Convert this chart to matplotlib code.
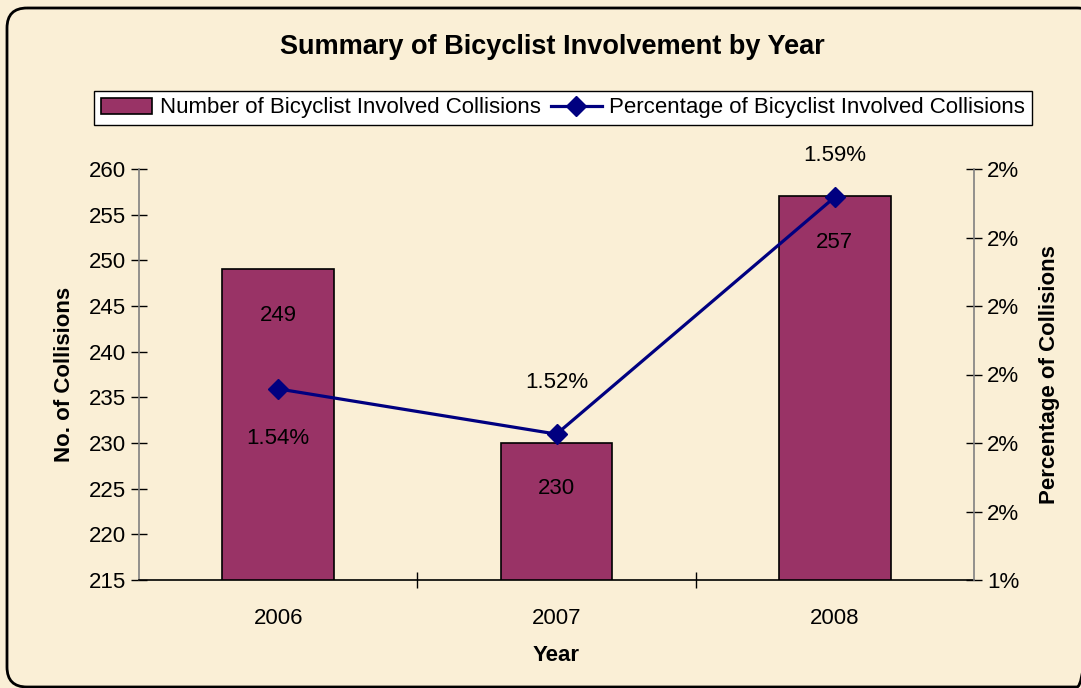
import matplotlib.pyplot as plt
from matplotlib.patches import FancyBboxPatch
from matplotlib.ticker import FuncFormatter, FixedLocator

plt.rcParams['font.family'] = ['Liberation Sans', 'DejaVu Sans']

years = ['2006', '2007', '2008']
collisions = [249, 230, 257]
pct = [1.5358, 1.5226, 1.5918]   # percent of all collisions
pct_labels = ['1.54%', '1.52%', '1.59%']
count_ticks = [215, 220, 225, 230, 235, 240, 245, 250, 255, 260]
pct_ticks = [1.48, 1.50, 1.52, 1.54, 1.56, 1.58, 1.60]

bg = '#FAEFD6'
plum = '#993366'
navy = '#000080'
fs = 16

fig = plt.figure(figsize=(10.81, 6.88), dpi=100)
fig.patch.set_facecolor(bg)

# rounded outer frame, drawn in pixel units on a full-figure overlay
ov = fig.add_axes([0, 0, 1, 1])
ov.set_xlim(0, 1081)
ov.set_ylim(688, 0)
ov.axis('off')
ov.add_patch(FancyBboxPatch((7, 8), 1090, 679, boxstyle='round,pad=0,rounding_size=20',
                            fill=False, ec='black', lw=2, clip_on=False))

ax = fig.add_axes([139/1081, 108/688, 835/1081, 411/688])
ax.set_facecolor('none')
x = list(range(len(years)))
bars = ax.bar(x, collisions, width=0.40, color=plum, edgecolor='black', lw=1.2, zorder=2)
ax.set_xlim(-0.5, 2.5)
ax.set_ylim(215, 260)
ax.yaxis.set_major_locator(FixedLocator(count_ticks))
ax.set_xticks(x)
ax.set_xticklabels(years)
ax.set_xticks([0.5, 1.5], minor=True)
ax.tick_params(axis='x', which='major', length=0, labelsize=fs, pad=20)
ax.tick_params(axis='x', which='minor', length=11, direction='inout', width=1)
ax.tick_params(axis='y', length=11, direction='inout', labelsize=fs, width=1, pad=4)
for s in ['top', 'right']:
    ax.spines[s].set_visible(False)
ax.spines['left'].set_color('#808080')
ax.spines['left'].set_linewidth(1.2)
ax.spines['bottom'].set_color('black')
ax.spines['bottom'].set_linewidth(1.2)
ax.set_ylabel('No. of Collisions', fontsize=fs, fontweight='bold', labelpad=10)
ax.set_xlabel('Year', fontsize=fs, fontweight='bold', labelpad=12)

for xi, v in zip(x, collisions):
    ax.annotate(str(v), (xi, v), xytext=(0, -33), textcoords='offset points',
                ha='center', va='center', fontsize=fs)

ax2 = ax.twinx()
ax2.set_facecolor('none')
ax2.plot(x, pct, color=navy, lw=2.3, marker='D', markersize=10, zorder=3)
ax2.set_ylim(1.48, 1.60)
ax2.yaxis.set_major_locator(FixedLocator(pct_ticks))
ax2.yaxis.set_major_formatter(FuncFormatter(lambda v, p: '%d%%' % round(v + 1e-9)))
ax2.tick_params(axis='y', length=11, direction='inout', labelsize=fs, width=1, pad=4)
for s in ['top', 'left', 'bottom']:
    ax2.spines[s].set_visible(False)
ax2.spines['right'].set_color('#808080')
ax2.spines['right'].set_linewidth(1.2)
ax2.set_ylabel('Percentage of Collisions', fontsize=fs, fontweight='bold', labelpad=14)

offsets = [-36, 37, 30]
for xi, v, lab, off in zip(x, pct, pct_labels, offsets):
    ax2.annotate(lab, (xi, v), xytext=(0, off), textcoords='offset points',
                 ha='center', va='center', fontsize=fs)

fig.text(552/1081, 1 - 47/688, 'Summary of Bicyclist Involvement by Year',
         ha='center', va='center', fontsize=19.5, fontweight='bold')

line = ax2.get_lines()[0]
leg = fig.legend([bars, line],
                 ['Number of Bicyclist Involved Collisions', 'Percentage of Bicyclist Involved Collisions'],
                 loc='center', bbox_to_anchor=(563/1081, 1 - 108/688), ncol=2, fontsize=fs,
                 frameon=True, fancybox=False, edgecolor='black', framealpha=1,
                 handlelength=2.3, handletextpad=0.35, columnspacing=0.45, borderpad=0.3,
                 borderaxespad=0)
leg.get_frame().set_linewidth(1)

fig.savefig('out.png', dpi=100, facecolor=bg)
